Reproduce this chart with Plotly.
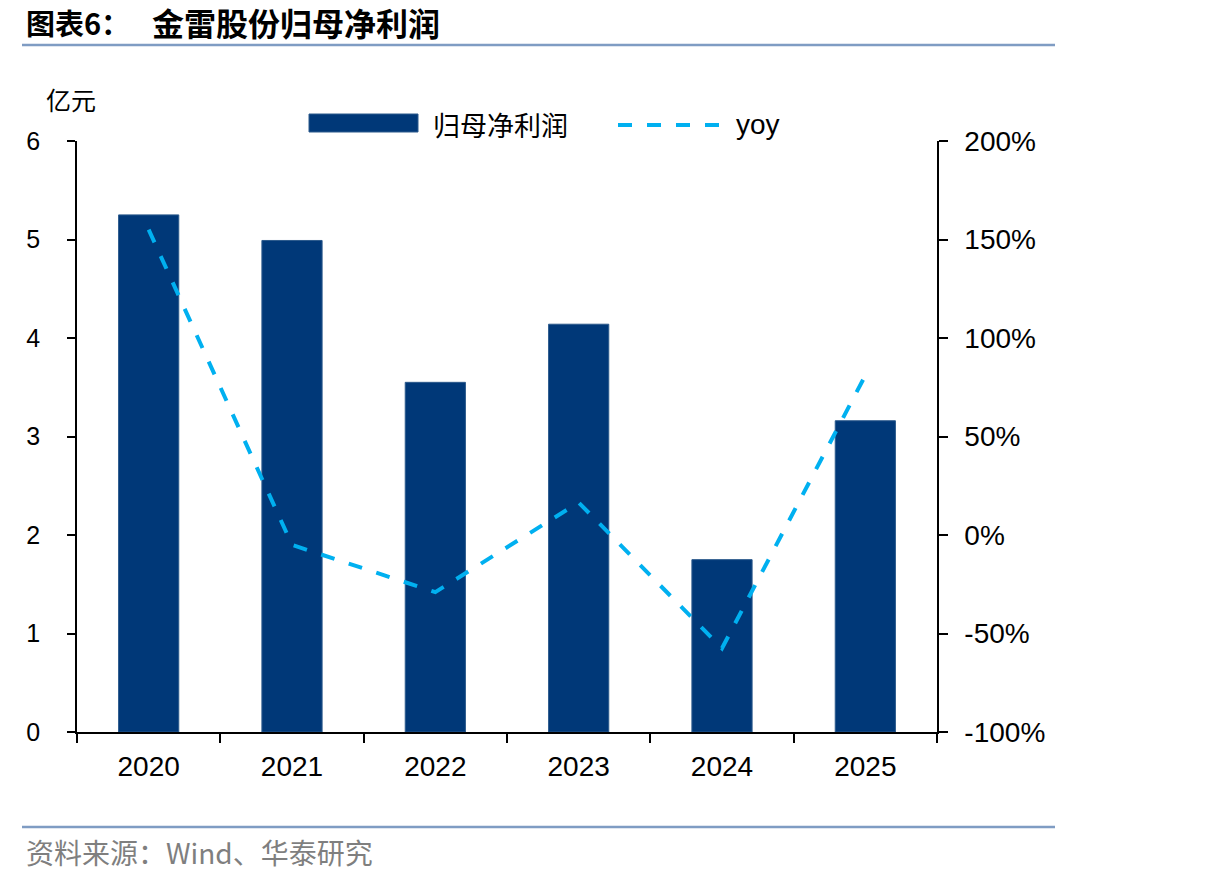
import plotly.graph_objects as go

years = ["2020", "2021", "2022", "2023", "2024", "2025"]
profit = [5.25, 4.99, 3.55, 4.14, 1.75, 3.16]      # 亿元
yoy = [155, -5, -29, 16.5, -57.5, 81]               # %

left_ticks = [0, 1, 2, 3, 4, 5, 6]
right_ticks = [-100, -50, 0, 50, 100, 150, 200]
right_labels = ["-100%", "-50%", "0%", "50%", "100%", "150%", "200%"]

BAR = "#003878"
LINE = "#00B0F0"
RULE = "#7f9cc3"

W, H = 1206, 881
L, R, T, B = 77, 937, 141, 732

def px_x(p):
    return (p - L) / (R - L)

def px_y(p):
    return (B - p) / (B - T)

fig = go.Figure()
fig.add_trace(go.Bar(
    x=years, y=profit, name="归母净利润",
    marker=dict(color=BAR, line=dict(color="#2c5a8c", width=1)),
    width=0.42, showlegend=False,
))
fig.add_trace(go.Scatter(
    x=years, y=yoy, name="yoy", yaxis="y2", mode="lines",
    line=dict(color=LINE, width=4, dash="14px,15px"),
    showlegend=False,
))

tickfont_l = dict(family="Liberation Sans, Arial", size=25, color="black")
tickfont = dict(family="Liberation Sans, Arial", size=28, color="black")

fig.update_layout(
    width=W, height=H,
    margin=dict(l=L, r=W - R, t=T, b=H - B, pad=0),
    paper_bgcolor="white", plot_bgcolor="white",
    xaxis=dict(
        type="category", showline=True, linecolor="black", linewidth=1.5,
        ticks="outside", tickson="boundaries", ticklen=9, tickwidth=1.5,
        tickcolor="black", tickfont=tickfont, showgrid=False,
        range=[-0.5, 5.5], ticklabelstandoff=9,
    ),
    yaxis=dict(
        range=[0, 6], tickvals=left_ticks, showline=True, linecolor="black",
        linewidth=1.5, ticks="outside", ticklen=8, tickwidth=1.5,
        tickcolor="black", tickfont=tickfont_l, showgrid=False, zeroline=False,
        ticklabelstandoff=22,
    ),
    yaxis2=dict(
        range=[-100, 200], tickvals=right_ticks, ticktext=right_labels,
        overlaying="y", side="right", showline=True, linecolor="black",
        linewidth=1.5, ticks="outside", ticklen=9, tickwidth=1.5,
        tickcolor="black", tickfont=tickfont, showgrid=False, zeroline=False,
        ticklabelstandoff=11,
    ),
    font=dict(family="Noto Sans CJK SC"),
)

shapes = [
    dict(type="line", xref="paper", yref="paper", x0=px_x(22), x1=px_x(1055),
         y0=px_y(45), y1=px_y(45), line=dict(color=RULE, width=2.5)),
    dict(type="line", xref="paper", yref="paper", x0=px_x(22), x1=px_x(1055),
         y0=px_y(827), y1=px_y(827), line=dict(color=RULE, width=2.5)),
    # legend swatches
    dict(type="rect", xref="paper", yref="paper", x0=px_x(309), x1=px_x(418),
         y0=px_y(132), y1=px_y(114), fillcolor=BAR, line=dict(color="#2c5a8c", width=1)),
    dict(type="line", xref="paper", yref="paper", x0=px_x(618), x1=px_x(722),
         y0=px_y(125), y1=px_y(125), line=dict(color=LINE, width=4, dash="14px,15px")),
]
fig.update_layout(shapes=shapes)

ann = [
    dict(text="<b>图表6：</b>", x=px_x(24), y=px_y(22), xanchor="left", yanchor="middle",
         font=dict(family="Noto Sans CJK SC", size=29, color="black")),
    dict(text="<b>金雷股份归母净利润</b>", x=px_x(150), y=px_y(22), xanchor="left", yanchor="middle",
         font=dict(family="Noto Sans CJK SC", size=32, color="black")),
    dict(text="亿元", x=px_x(44), y=px_y(99), xanchor="left", yanchor="middle",
         font=dict(family="Noto Sans CJK SC", size=25, color="black")),
    dict(text="归母净利润", x=px_x(431), y=px_y(124), xanchor="left", yanchor="middle",
         font=dict(family="Noto Sans CJK SC", size=27, color="black")),
    dict(text="yoy", x=px_x(734), y=px_y(124), xanchor="left", yanchor="middle",
         font=dict(family="Liberation Sans, Arial", size=28, color="black")),
    dict(text="资料来源：Wind、华泰研究", x=px_x(24), y=px_y(852), xanchor="left", yanchor="middle",
         font=dict(family="Noto Sans CJK SC", size=28, color="#7f7f7f")),
]
for a in ann:
    a.update(xref="paper", yref="paper", showarrow=False)
fig.update_layout(annotations=ann)

fig.write_html("out.html")
